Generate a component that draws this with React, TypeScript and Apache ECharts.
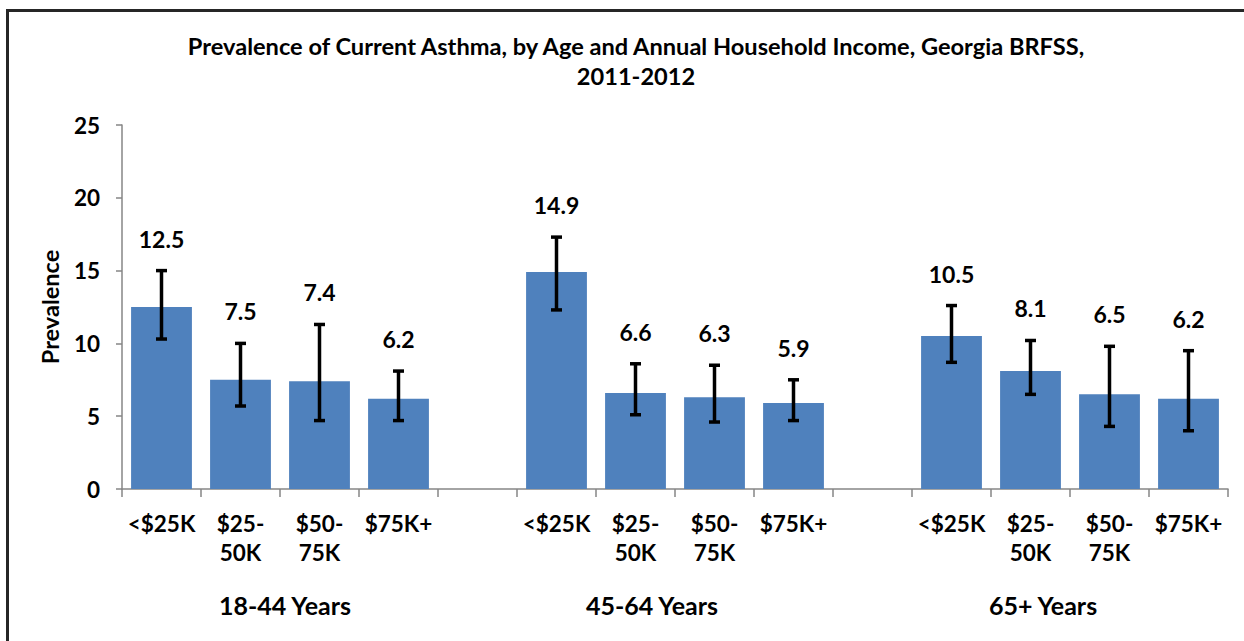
import React, { useEffect, useRef } from "react";
import * as echarts from "echarts";

const categories = ["<$25K", "$25-\n50K", "$50-\n75K", "$75K+", "", "<$25K", "$25-\n50K", "$50-\n75K", "$75K+", "", "<$25K", "$25-\n50K", "$50-\n75K", "$75K+"];
const prevalence: (number | null)[] = [12.5, 7.5, 7.4, 6.2, null, 14.9, 6.6, 6.3, 5.9, null, 10.5, 8.1, 6.5, 6.2];
const ciLower: (number | null)[] = [10.3, 5.7, 4.7, 4.7, null, 12.3, 5.1, 4.6, 4.7, null, 8.7, 6.5, 4.3, 4.0];
const ciUpper: (number | null)[] = [15.0, 10.0, 11.3, 8.1, null, 17.3, 8.6, 8.5, 7.5, null, 12.6, 10.2, 9.8, 9.5];
const groupLabels = ["18-44 Years", "45-64 Years", "65+ Years"];
const yTicks = [0, 5, 10, 15, 20, 25];

const FONT = "Lato, 'Open Sans', sans-serif";

export default function App() {
  const ref = useRef<HTMLDivElement>(null);
  useEffect(() => {
    if (!ref.current) return;
    const chart = echarts.init(ref.current, null, { renderer: "svg" });
    const errData = prevalence.map((v, i) =>
      v == null ? [i, null, null, null] : [i, ciLower[i], ciUpper[i], v]
    );
    const groupX = [285, 652, 1043];
    chart.setOption({
      animation: false,
      backgroundColor: "#ffffff",
      title: {
        text: "Prevalence of Current Asthma, by Age and Annual Household Income, Georgia BRFSS,\n2011-2012",
        left: 631,
        textAlign: "center",
        top: 26,
        textStyle: { fontFamily: FONT, fontWeight: "bold", fontSize: 23.6, color: "#000", lineHeight: 30 },
      },
      grid: { left: 122, top: 125, right: 16, bottom: 152, containLabel: false },
      xAxis: {
        type: "category",
        data: categories,
        axisLine: { lineStyle: { color: "#868686", width: 1.5 } },
        axisTick: { show: true, interval: 0, length: 8, lineStyle: { color: "#868686", width: 1.5 } },
        axisLabel: {
          interval: 0,
          margin: 20,
          fontFamily: FONT,
          fontWeight: "bold",
          fontSize: 22.5,
          color: "#000",
          lineHeight: 29,
        },
      },
      yAxis: {
        type: "value",
        min: 0,
        max: yTicks[yTicks.length - 1],
        interval: 5,
        name: "Prevalence",
        nameLocation: "middle",
        nameGap: 60,
        nameTextStyle: { fontFamily: FONT, fontWeight: "bold", fontSize: 23.5, color: "#000" },
        axisLine: { show: true, lineStyle: { color: "#868686", width: 1.5 } },
        axisTick: { show: true, length: 6, lineStyle: { color: "#868686", width: 1.5 } },
        splitLine: { show: false },
        axisLabel: { margin: 22, fontFamily: FONT, fontWeight: "bold", fontSize: 22.5, color: "#000" },
      },
      series: [
        {
          type: "bar",
          data: prevalence.map((v) => (v == null ? "-" : v)),
          barWidth: "77%",
          itemStyle: { color: "#4F81BD" },
        },
        {
          type: "custom",
          data: errData,
          z: 10,
          renderItem: (params: any, api: any) => {
            const lo = api.value(1);
            const hi = api.value(2);
            if (lo == null || hi == null || isNaN(lo) || isNaN(hi)) return null;
            const i = api.value(0);
            const pLo = api.coord([i, lo]);
            const pHi = api.coord([i, hi]);
            const cap = 5.5;
            const st = { stroke: "#000", lineWidth: 3.5 };
            return {
              type: "group",
              children: [
                { type: "line", shape: { x1: pLo[0], y1: pLo[1], x2: pHi[0], y2: pHi[1] }, style: st },
                { type: "line", shape: { x1: pLo[0] - cap, y1: pLo[1], x2: pLo[0] + cap, y2: pLo[1] }, style: st },
                { type: "line", shape: { x1: pHi[0] - cap, y1: pHi[1], x2: pHi[0] + cap, y2: pHi[1] }, style: st },
                {
                  type: "text",
                  x: pHi[0],
                  y: pHi[1] - 32,
                  style: {
                    text: String(api.value(3).toFixed(1)),
                    align: "center",
                    verticalAlign: "middle",
                    fontFamily: FONT,
                    fontWeight: "bold",
                    fontSize: 23,
                    fill: "#000",
                  },
                },
              ],
            };
          },
        },
      ],
      graphic: [
        {
          type: "rect",
          shape: { x: 7.5, y: 10.5, width: 1260, height: 700 },
          style: { fill: "none", stroke: "#262626", lineWidth: 3 },
          silent: true,
        },
        ...groupLabels.map((g, k) => ({
          type: "text",
          x: groupX[k],
          y: 605,
          style: {
            text: g,
            align: "center",
            verticalAlign: "middle",
            fontFamily: FONT,
            fontWeight: "bold",
            fontSize: 25,
            fill: "#000",
          },
        })),
      ],
    });
    return () => chart.dispose();
  }, []);
  return (
    <div
      ref={ref}
      style={{ position: "fixed", left: 0, top: 0, width: 1244, height: 641 }}
    />
  );
}
